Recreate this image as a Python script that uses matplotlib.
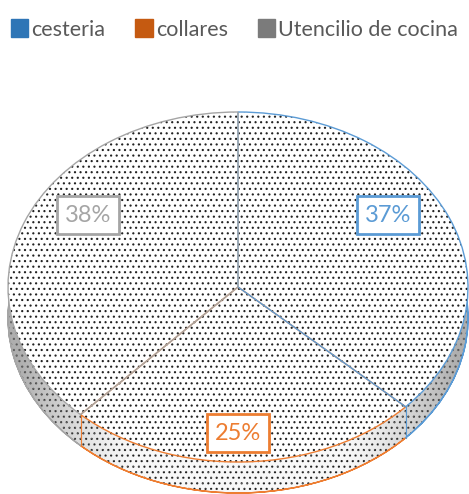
import numpy as np
import matplotlib
matplotlib.use("Agg")
import matplotlib.pyplot as plt
from matplotlib.patches import Patch, Polygon

plt.rcParams['font.family'] = ['Lato', 'DejaVu Sans']
plt.rcParams['hatch.linewidth'] = 0.8

categories = ['cesteria', 'collares', 'Utencilio de cocina']
values = [37, 25, 38]
edge_colors = ['#5B9BD5', '#ED7D31', '#A5A5A5']
legend_colors = ['#2E75B6', '#C55A11', '#7B7B7B']

W, H = 469, 494
fig = plt.figure(figsize=(W / 100, H / 100), dpi=100)
ax = fig.add_axes([0, 0, 1, 1])

rx_px, ry_px = 230.0, 175.0
cx_px, cy_px = 238.0, 287.0
depth = 31.0 / ry_px

common = dict(startangle=90, counterclock=False, radius=1.0)
edge_z = [6.1, 6.0, 6.2]
HATCH = '...'

# side wall: stacked layers
layers = np.linspace(depth, 0.0, 14)[:-1]
for d in layers:
    ws, _ = ax.pie(values, center=(0, -d), wedgeprops=dict(facecolor='#f8f8f8', edgecolor='#222222',
                                                           linewidth=0, hatch=HATCH), **common)
    for w in ws:
        w.set_zorder(1)

# bottom outline (arcs only)
ws, _ = ax.pie(values, center=(0, -depth), wedgeprops=dict(fill=False, linewidth=1.0, width=1e-4), **common)
for w, c, z in zip(ws, edge_colors, edge_z):
    w.set_edgecolor(c)
    w.set_zorder(z - 4)

# shading of the side wall
t = np.linspace(np.pi, 2 * np.pi, 200)
band = np.concatenate([np.column_stack([np.cos(t), np.sin(t)]),
                       np.column_stack([np.cos(t[::-1]), np.sin(t[::-1]) - depth])])
band_patch = Polygon(band, closed=True, transform=ax.transData, facecolor='none', edgecolor='none')
ax.add_patch(band_patch)
xs = np.linspace(-1, 1, 400)
alpha = np.clip((np.abs(xs) - 0.45) / 0.5, 0, 1) ** 1.4 * 0.55
img = np.zeros((1, xs.size, 4))
img[..., :3] = 0.45
img[0, :, 3] = alpha
im = ax.imshow(img, extent=[-1, 1, -1 - depth, 0], aspect='auto', zorder=1.5, interpolation='bilinear')
im.set_clip_path(band_patch)

# vertical edges at slice boundaries on the side wall
cum = np.cumsum([0] + values)
for frac, c in zip(cum[1:-1] / cum[-1], edge_colors):
    ang = np.deg2rad(90 - 360 * frac)
    if np.sin(ang) < 0:
        ax.plot([np.cos(ang)] * 2, [np.sin(ang), np.sin(ang) - depth], color=c, lw=0.8, zorder=4)

# top face
ws, _, autotexts = ax.pie(values, center=(0, 0), autopct='%1.0f%%', pctdistance=0.8,
                          wedgeprops=dict(facecolor='white', edgecolor='#222222', linewidth=0, hatch=HATCH),
                          **common)
for w in ws:
    w.set_zorder(5)
ws, _ = ax.pie(values, center=(0, 0), wedgeprops=dict(fill=False, linewidth=1.0), **common)
for w, c, z in zip(ws, edge_colors, edge_z):
    w.set_edgecolor(c)
    w.set_zorder(z)

# label placement (pixel positions of the label boxes)
label_px = [(388, 215), (238, 433), (88, 215)]
for txt, c, (px, py) in zip(autotexts, edge_colors, label_px):
    txt.set_position(((px - cx_px) / rx_px, (cy_px - py) / ry_px))
    txt.set_color(c)
    txt.set_fontsize(17)
    txt.set_zorder(10)
    txt.set_bbox(dict(boxstyle='square,pad=0.35', facecolor='white', edgecolor=c, linewidth=2))

ax.set_aspect('auto')
ax.set_xlim(-cx_px / rx_px, (W - cx_px) / rx_px)
ax.set_ylim(-(H - cy_px) / ry_px, cy_px / ry_px)
ax.axis('off')

handles = [Patch(facecolor=c, edgecolor=c) for c in legend_colors]
fig.legend(handles, categories, loc='upper center', bbox_to_anchor=(0.5, 1.0), ncol=3, frameon=False,
           handlelength=0.8, handleheight=0.9, handletextpad=0.15, columnspacing=1.4,
           fontsize=15.5, labelcolor='#595959')

fig.savefig('out.png', dpi=100)
